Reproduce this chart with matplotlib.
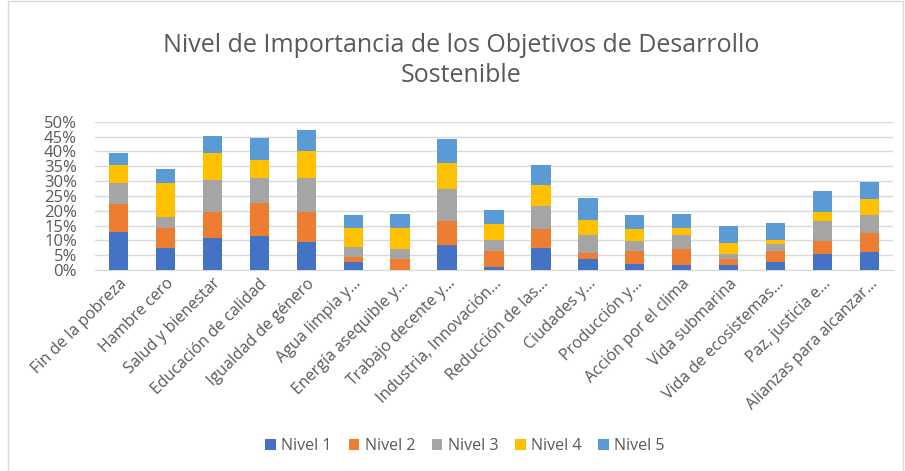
import matplotlib
matplotlib.use("Agg")
import matplotlib.pyplot as plt
import numpy as np
from matplotlib.patches import Rectangle

categories = ["Fin de la pobreza", "Hambre cero", "Salud y bienestar", "Educación de calidad",
              "Igualdad de género", "Agua limpia y…", "Energía asequible y…", "Trabajo decente y…",
              "Industria, Innovación…", "Reducción de las…", "Ciudades y…", "Producción y…",
              "Acción por el clima", "Vida submarina", "Vida de ecosistemas…", "Paz, justicia e…",
              "Alianzas para alcanzar…"]
nivel1 = [12.8, 7.4, 10.8, 11.4, 9.4, 2.8, 0.0, 8.4, 1.1, 7.4, 3.8, 2.1, 1.6, 1.6, 2.8, 5.5, 6.2]
nivel2 = [9.5, 6.7, 8.9, 11.2, 10.3, 1.7, 3.8, 8.0, 5.4, 6.4, 1.9, 4.4, 5.6, 2.2, 3.7, 4.3, 6.2]
nivel3 = [7.1, 3.9, 10.7, 8.5, 11.4, 3.3, 3.4, 11.0, 3.6, 7.8, 6.1, 3.3, 4.6, 1.7, 2.2, 6.6, 6.0]
nivel4 = [5.9, 11.5, 8.9, 6.0, 8.9, 6.2, 6.8, 8.6, 5.3, 7.1, 4.9, 4.0, 2.3, 3.6, 1.4, 3.3, 5.4]
nivel5 = [4.0, 4.5, 6.0, 7.5, 7.2, 4.6, 4.9, 8.2, 4.9, 6.6, 7.6, 4.8, 4.8, 5.9, 5.6, 7.0, 5.9]
series_names = ["Nivel 1", "Nivel 2", "Nivel 3", "Nivel 4", "Nivel 5"]
colors = ["#4472C4", "#ED7D31", "#A5A5A5", "#FFC000", "#5B9BD5"]

plt.rcParams['font.family'] = ['Open Sans', 'DejaVu Sans']
txt = "#595959"

fig = plt.figure(figsize=(9.05, 4.71), dpi=100)
ax = fig.add_axes([95/905, 1-270/471, (893-95)/905, (270-121.7)/471])

x = np.arange(len(categories))
bottom = np.zeros(len(categories))
for name, vals, c in zip(series_names, [nivel1, nivel2, nivel3, nivel4, nivel5], colors):
    v = np.array(vals) / 100
    ax.bar(x, v, 0.41, bottom=bottom, color=c, label=name, zorder=3)
    bottom += v

ax.set_xlim(-0.5, len(categories) - 0.5)
ax.set_ylim(0, 0.5)
ax.set_yticks(np.arange(0, 0.51, 0.05))
ax.set_yticklabels([f"{int(round(t*100))}%" for t in np.arange(0, 0.51, 0.05)], fontsize=12, color=txt)
ax.yaxis.grid(True, color="#D9D9D9", linewidth=1, zorder=0)
ax.tick_params(axis='y', length=0, pad=13)
ax.tick_params(axis='x', length=0, pad=4)
ax.set_xticks(x)
ax.set_xticklabels(categories, rotation=45, ha='right', rotation_mode='anchor', fontsize=11.5, color=txt)
for s in ["top", "right", "left"]:
    ax.spines[s].set_visible(False)
ax.spines["bottom"].set_color("#D9D9D9")

fig.text(0.51, 1-45/471, "Nivel de Importancia de los Objetivos de Desarrollo", ha='center', va='center',
         fontsize=18, color=txt)
fig.text(0.51, 1-76/471, "Sostenible", ha='center', va='center', fontsize=18, color=txt)

leg = fig.legend(loc='center', bbox_to_anchor=(0.514, 1-446/471), ncol=5, frameon=False,
                 fontsize=11.5, handlelength=0.65, handleheight=0.65, columnspacing=1.05, handletextpad=0.35)
for t in leg.get_texts():
    t.set_color(txt)

fig.patches.append(Rectangle((8/905, 0.5/471), (903-8)/905, 1 - 1/471, transform=fig.transFigure,
                             fill=False, edgecolor="#D9D9D9", linewidth=1))

fig.savefig("out.png", dpi=100)
